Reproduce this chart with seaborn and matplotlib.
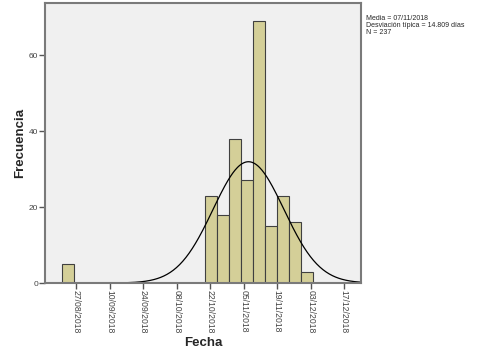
import numpy as np
import pandas as pd
import matplotlib
matplotlib.use("Agg")
import matplotlib.pyplot as plt
import matplotlib.dates as mdates
import seaborn as sns

# Data
bin_starts = ["2018-08-21", "2018-10-20", "2018-10-25", "2018-10-30", "2018-11-04",
              "2018-11-09", "2018-11-14", "2018-11-19", "2018-11-24", "2018-11-29"]
counts = [5, 23, 18, 38, 27, 69, 15, 23, 16, 3]
tick_dates = ["2018-08-27", "2018-09-10", "2018-09-24", "2018-10-08", "2018-10-22",
              "2018-11-05", "2018-11-19", "2018-12-03", "2018-12-17"]
tick_labels = ["27/08/2018", "10/09/2018", "24/09/2018", "08/10/2018", "22/10/2018",
               "05/11/2018", "19/11/2018", "03/12/2018", "17/12/2018"]
yticks = [0, 20, 40, 60]
mean_date = "2018-11-07"
sd_days = 14.809
n_total = 237
bin_width_days = 5

to_num = lambda s: mdates.date2num(pd.Timestamp(s))
starts_num = np.array([to_num(s) for s in bin_starts])
df = pd.DataFrame({"fecha": starts_num + bin_width_days / 2, "n": counts})
edges = list(np.arange(to_num("2018-08-21"), to_num("2018-12-04") + 0.1, bin_width_days))

sns.set_style("white")
plt.rcParams['font.family'] = ['Liberation Sans', 'DejaVu Sans']
fig = plt.figure(figsize=(4.82, 3.59), dpi=100)
ax = fig.add_axes([45 / 482, 1 - 283 / 359, (361 - 45) / 482, (283 - 3) / 359])
ax.set_facecolor("#F0F0F0")

sns.histplot(data=df, x="fecha", weights="n", bins=edges, ax=ax,
             color="#D4CF98", edgecolor="#404040", linewidth=0.8, alpha=1)

# Normal curve
mu = to_num(mean_date)
xs = np.linspace(to_num("2018-08-14"), to_num("2018-12-24"), 400)
ys = n_total * bin_width_days / (sd_days * np.sqrt(2 * np.pi)) * np.exp(-0.5 * ((xs - mu) / sd_days) ** 2)
sns.lineplot(x=xs, y=ys, ax=ax, color="black", linewidth=0.9)

ax.set_xlim(to_num("2018-08-14"), to_num("2018-12-24"))
ax.set_ylim(0, 73.7)
ax.set_xticks([to_num(d) for d in tick_dates])
ax.set_xticklabels(tick_labels, rotation=-90, fontsize=6.2, color="#444444")
ax.set_yticks(yticks)
ax.set_yticklabels([str(v) for v in yticks], fontsize=6, color="#444444")
ax.tick_params(axis="both", direction="out", length=4, width=1, color="#555555", pad=1,
               bottom=True, left=True)
for s in ax.spines.values():
    s.set_color("#7A7A7A")
    s.set_linewidth(1.5)

ax.set_xlabel("Fecha", fontsize=9.5, fontweight="bold", labelpad=3)
ax.set_ylabel("Frecuencia", fontsize=9.5, fontweight="bold")
ax.yaxis.set_label_coords(-0.06, 0.5)

fig.text(366 / 482, 1 - 15 / 359,
         "Media = 07/11/2018\nDesviación típica = 14.809 días\nN = 237",
         fontsize=5, va="top", ha="left", linespacing=0.95)

fig.savefig("out.png", dpi=100)
